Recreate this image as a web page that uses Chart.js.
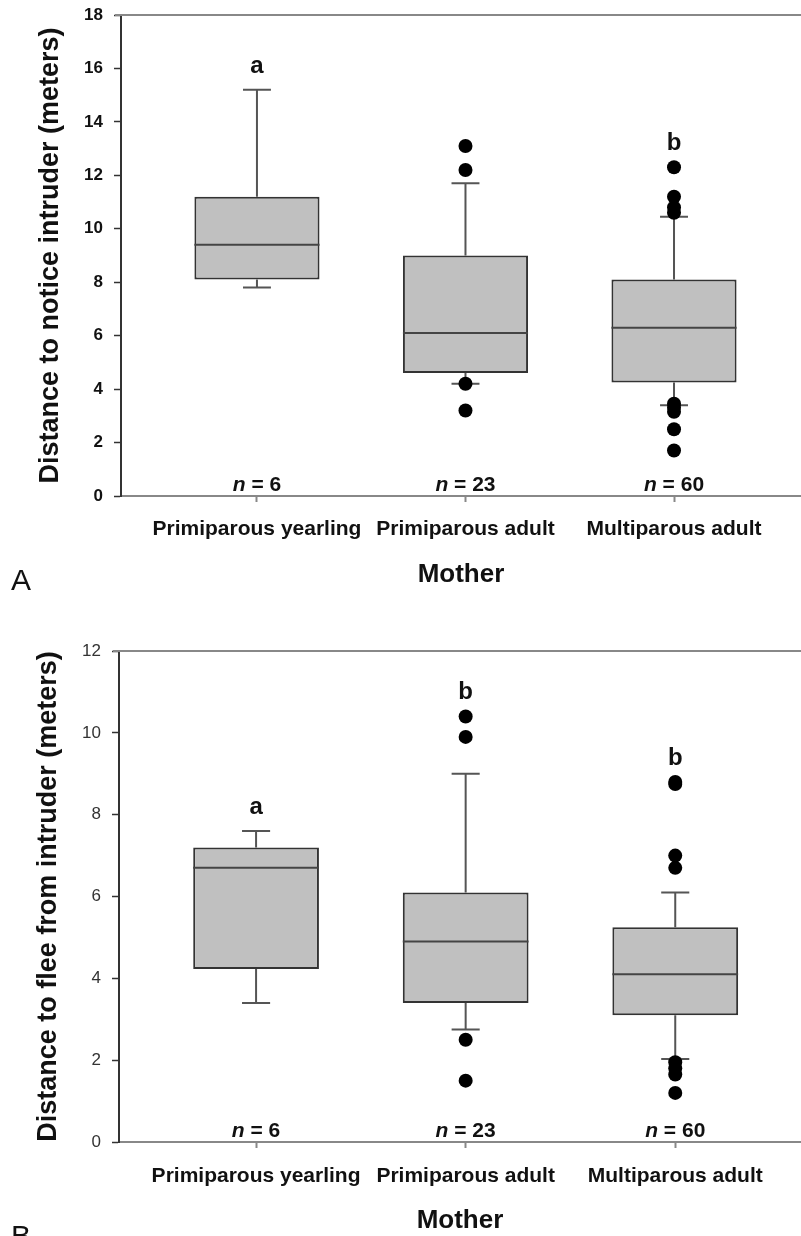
<!DOCTYPE html>
<html>
<head>
<meta charset="utf-8">
<script src="https://cdn.jsdelivr.net/npm/chart.js@4"></script>
<style>
  body { margin: 0; background: #fff; width: 801px; height: 1236px; overflow: hidden; position: relative; }
  canvas { position: absolute; left: 0; }
  #chartA { top: 0; }
  #chartB { top: 600px; }
  .panel { position: absolute; left: 11px; font: 30px "Liberation Sans", Arial, sans-serif; color: #111; line-height: 30px; }
</style>
</head>
<body>
<canvas id="chartA" width="801" height="600"></canvas>
<canvas id="chartB" width="801" height="636"></canvas>
<div class="panel" style="top:565px">A</div>
<div class="panel" style="top:1221px">B</div>
<script>
const categories = ['Primiparous yearling', 'Primiparous adult', 'Multiparous adult'];
const sampleSizes = [6, 23, 60];

// A: distance to notice intruder
const noticeLow = [7.8, 4.2, 3.4];
const noticeQ1 = [8.1, 4.6, 4.25];
const noticeMedian = [9.4, 6.1, 6.3];
const noticeQ3 = [11.2, 9.0, 8.1];
const noticeHigh = [15.2, 11.7, 10.45];
const noticeOutliers = [[], [13.1, 12.2, 4.2, 3.2], [12.3, 11.2, 10.8, 10.6, 3.45, 3.3, 3.15, 2.5, 1.7]];
const noticeLetters = ['a', '', 'b'];
const noticeTicks = [0, 2, 4, 6, 8, 10, 12, 14, 16, 18];

// B: distance to flee from intruder
const fleeLow = [3.4, 2.75, 2.03];
const fleeQ1 = [4.23, 3.4, 3.1];
const fleeMedian = [6.7, 4.9, 4.1];
const fleeQ3 = [7.2, 6.1, 5.25];
const fleeHigh = [7.6, 9.0, 6.1];
const fleeOutliers = [[], [10.4, 9.9, 2.5, 1.5], [8.8, 8.75, 7.0, 6.7, 1.95, 1.8, 1.65, 1.2]];
const fleeLetters = ['a', 'b', 'b'];
const fleeTicks = [0, 2, 4, 6, 8, 10, 12];

const FONT = '"Liberation Sans", Arial, sans-serif';
const CAP_HALF = 0.067; // whisker cap half width, in x units

function boxParts(low, median, high, outliers, letters) {
  return {
    id: 'boxParts',
    beforeDatasetsDraw(chart) {
      const {ctx, scales: {x, y}} = chart;
      const boxes = chart.data.datasets[0].data;
      ctx.save();
      ctx.strokeStyle = '#555';
      ctx.lineWidth = 2;
      const cw = x.getPixelForValue(1 + CAP_HALF) - x.getPixelForValue(1);
      boxes.forEach((d, i) => {
        const px = x.getPixelForValue(d.x);
        ctx.beginPath();
        ctx.moveTo(px, y.getPixelForValue(d.y[1]));
        ctx.lineTo(px, y.getPixelForValue(high[i]));
        ctx.moveTo(px, y.getPixelForValue(d.y[0]));
        ctx.lineTo(px, y.getPixelForValue(low[i]));
        ctx.moveTo(px - cw, y.getPixelForValue(high[i]));
        ctx.lineTo(px + cw, y.getPixelForValue(high[i]));
        ctx.moveTo(px - cw, y.getPixelForValue(low[i]));
        ctx.lineTo(px + cw, y.getPixelForValue(low[i]));
        ctx.stroke();
      });
      ctx.restore();
    },
    afterDatasetDraw(chart, args) {
      if (args.index !== 0) return;
      const {ctx} = chart;
      const y = chart.scales.y;
      ctx.save();
      ctx.strokeStyle = '#444';
      ctx.lineWidth = 2;
      args.meta.data.forEach((bar, i) => {
        const py = y.getPixelForValue(median[i]);
        ctx.beginPath();
        ctx.moveTo(bar.x - bar.width / 2, py);
        ctx.lineTo(bar.x + bar.width / 2, py);
        ctx.stroke();
      });
      ctx.restore();
    },
    afterDraw(chart) {
      const {ctx, chartArea, scales: {x, y}} = chart;
      ctx.save();
      // top frame line
      ctx.strokeStyle = '#888';
      ctx.lineWidth = 2;
      ctx.beginPath();
      ctx.moveTo(chartArea.left - 6, chartArea.top);
      ctx.lineTo(chartArea.right, chartArea.top);
      ctx.stroke();

      ctx.fillStyle = '#111';
      ctx.textBaseline = 'alphabetic';
      categories.forEach((c, i) => {
        const px = x.getPixelForValue(i + 1);
        // significance letters
        if (letters[i]) {
          const top = Math.max(high[i], ...outliers[i]);
          ctx.font = 'bold 24px ' + FONT;
          ctx.textAlign = 'center';
          ctx.fillText(letters[i], px, y.getPixelForValue(top) - 17);
        }
        // n = ...
        const nPart = 'n';
        const rest = ' = ' + sampleSizes[i];
        ctx.font = 'italic bold 21px ' + FONT;
        const w1 = ctx.measureText(nPart).width;
        ctx.font = 'bold 21px ' + FONT;
        const w2 = ctx.measureText(rest).width;
        const start = px - (w1 + w2) / 2;
        const base = chartArea.bottom - 5;
        ctx.textAlign = 'left';
        ctx.font = 'italic bold 21px ' + FONT;
        ctx.fillText(nPart, start, base);
        ctx.font = 'bold 21px ' + FONT;
        ctx.fillText(rest, start + w1, base);
      });
      ctx.restore();
    }
  };
}

function makeChart(id, opts) {
  const boxes = opts.q1.map((v, i) => ({x: i + 1, y: [v, opts.q3[i]]}));
  const dots = opts.outliers.flatMap((arr, i) => arr.map(v => ({x: i + 1, y: v})));
  return new Chart(document.getElementById(id), {
    type: 'bar',
    data: {
      datasets: [
        {
          data: boxes,
          backgroundColor: '#c0c0c0',
          borderColor: '#333',
          borderWidth: 2,
          borderSkipped: false,
          categoryPercentage: 0.8,
          barPercentage: 0.75
        },
        {
          type: 'scatter',
          data: dots,
          pointRadius: 7,
          pointBackgroundColor: '#000',
          pointBorderWidth: 0
        }
      ]
    },
    options: {
      responsive: false,
      animation: false,
      layout: {autoPadding: false, padding: {top: opts.top, left: 0, right: 0, bottom: 0}},
      plugins: {legend: {display: false}, tooltip: {enabled: false}},
      scales: {
        x: {
          type: 'linear',
          offset: false,
          min: opts.xMin,
          max: opts.xMax,
          afterBuildTicks(s) { s.ticks = categories.map((c, i) => ({value: i + 1})); },
          afterFit(s) { s.height = opts.xHeight; s.paddingLeft = 0; s.paddingRight = 0; },
          ticks: {
            autoSkip: false, maxRotation: 0, minRotation: 0,
            callback: (v, i) => categories[i],
            color: '#111',
            font: {family: FONT, size: 21, weight: 'bold'},
            padding: opts.xTickPad
          },
          grid: {offset: false, drawOnChartArea: false, tickLength: 6, tickColor: '#888', tickWidth: 2},
          border: {color: '#888', width: 2},
          title: {
            display: true, text: 'Mother', color: '#111',
            font: {family: FONT, size: 26, weight: 'bold'},
            padding: {top: 0, bottom: opts.titlePad}
          }
        },
        y: {
          min: 0,
          max: opts.ticks[opts.ticks.length - 1],
          afterBuildTicks(s) { s.ticks = opts.ticks.map(v => ({value: v})); },
          afterFit(s) { s.width = opts.yWidth; s.paddingTop = 0; s.paddingBottom = 0; },
          ticks: {
            color: opts.tickColor,
            font: {family: FONT, size: 17, weight: opts.tickWeight},
            padding: 11
          },
          grid: {drawOnChartArea: false, tickLength: 7, tickColor: '#333', tickWidth: 1.5},
          border: {color: '#333', width: 2},
          title: {
            display: true, text: opts.yTitle, color: '#111',
            font: {family: FONT, size: 27, weight: 'bold'},
            padding: {top: opts.yTitlePad, bottom: 0}
          }
        }
      }
    },
    plugins: [boxParts(opts.low, opts.median, opts.high, opts.outliers, opts.letters)]
  });
}

makeChart('chartA', {
  q1: noticeQ1, q3: noticeQ3, low: noticeLow, high: noticeHigh, median: noticeMedian,
  outliers: noticeOutliers, letters: noticeLetters, ticks: noticeTicks,
  yTitle: 'Distance to notice intruder (meters)',
  tickColor: '#111', tickWeight: 'bold',
  top: 15, xMin: 0.348, xMax: 3.609, xHeight: 104, yWidth: 121, titlePad: 10, xTickPad: 15, yTitlePad: 34
});

makeChart('chartB', {
  q1: fleeQ1, q3: fleeQ3, low: fleeLow, high: fleeHigh, median: fleeMedian,
  outliers: fleeOutliers, letters: fleeLetters, ticks: fleeTicks,
  yTitle: 'Distance to flee from intruder (meters)',
  tickColor: '#333', tickWeight: 'normal',
  top: 51, xMin: 0.346, xMax: 3.60, xHeight: 94, yWidth: 119, titlePad: 0, xTickPad: 16, yTitlePad: 32
});
</script>
</body>
</html>
